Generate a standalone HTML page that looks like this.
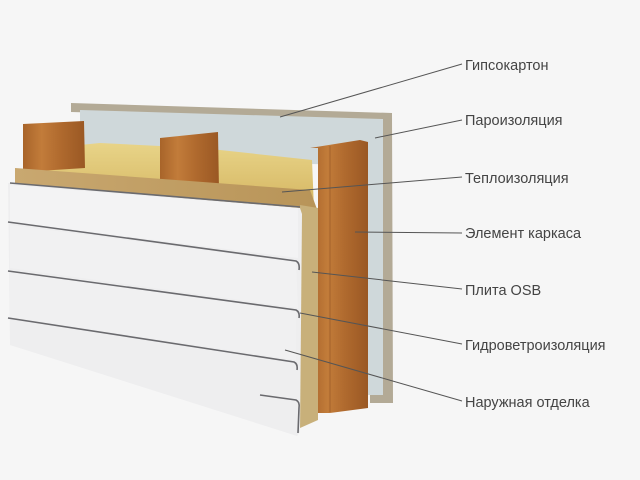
<!DOCTYPE html>
<html><head><meta charset="utf-8"><style>
html,body{margin:0;padding:0;background:#f6f6f6;}
svg{display:block}
text{font-family:"Liberation Sans","DejaVu Sans",sans-serif;font-size:14.5px;fill:#444}
</style></head><body>
<svg width="640" height="480" viewBox="0 0 640 480" xmlns="http://www.w3.org/2000/svg">
<defs>
<linearGradient id="wood" x1="0" x2="1" y1="0" y2="0">
<stop offset="0" stop-color="#a8642a"/><stop offset="0.3" stop-color="#c27c3a"/><stop offset="0.6" stop-color="#b06a2e"/><stop offset="1" stop-color="#9a5824"/></linearGradient>
<linearGradient id="ins" x1="0" x2="0" y1="0" y2="1">
<stop offset="0" stop-color="#e8d488"/><stop offset="1" stop-color="#d4b460"/></linearGradient>
<linearGradient id="osb" x1="0" x2="1"><stop offset="0" stop-color="#c9a870"/><stop offset="1" stop-color="#b89458"/></linearGradient>
</defs>
<rect width="640" height="480" fill="#f6f6f6"/>
<!-- gypsum -->
<polygon points="71,103 392,113 393,403 370,403 370,120 71,112" fill="#b3aa96"/>
<!-- vapor barrier -->
<polygon points="80,110 383,119 383,395 366,395 366,165 80,160" fill="#cfd8da"/>
<!-- insulation -->
<polygon points="30,150 100,143 160,146 220,150 312,160 314,210 30,180" fill="url(#ins)"/>
<!-- left stud -->
<polygon points="23,124 84,121 85,168 23,172" fill="url(#wood)"/>
<!-- middle stud -->
<polygon points="160,138 218,132 219,190 160,192" fill="url(#wood)"/>
<!-- OSB top -->
<polygon points="15,168 310,190 318,212 15,185" fill="url(#osb)"/>
<!-- OSB right edge -->
<polygon points="300,205 318,208 318,420 300,428" fill="#c8b07a"/>
<!-- right stud -->
<polygon points="310,148 360,140 368,142 368,408 330,413 318,413 318,148" fill="url(#wood)"/>
<line x1="330" y1="146" x2="330" y2="412" stroke="#8a4c1e" stroke-width="1" opacity=".5"/>
<!-- siding -->
<polygon points="8,183 300,208 302,214 300,432 297,436 10,345" fill="#eeeeef"/>
<polygon points="10,185 298,208 298,258 10,222" fill="#f3f3f4"/>
<polygon points="10,225 296,262 298,308 10,268" fill="#f1f1f2"/>
<polygon points="10,272 296,311 296,360 10,317" fill="#f0f0f1"/>
<polygon points="10,320 296,365 298,432 10,345" fill="#eeeeef"/>
<g stroke="#6a6a6e" stroke-width="1.6" fill="none">
<path d="M10,183 L300,207"/>
<path d="M8,222 L296,261 Q300,263 299,270"/>
<path d="M8,271 L296,310 Q300,312 299,318"/>
<path d="M8,318 L294,362 Q298,364 297,370"/>
<path d="M260,395 L296,400 Q300,402 299,408 L298,433"/>
</g>
<!-- leader lines -->
<g stroke="#555" stroke-width="1" fill="none">
<line x1="462" y1="64" x2="280" y2="117"/>
<line x1="462" y1="120" x2="375" y2="138"/>
<line x1="462" y1="177" x2="282" y2="192"/>
<line x1="462" y1="233" x2="355" y2="232"/>
<line x1="462" y1="289" x2="312" y2="272"/>
<line x1="462" y1="344" x2="300" y2="313"/>
<line x1="462" y1="401" x2="285" y2="350"/>
</g>
<text x="465" y="70">Гипсокартон</text>
<text x="465" y="125">Пароизоляция</text>
<text x="465" y="183">Теплоизоляция</text>
<text x="465" y="238">Элемент каркаса</text>
<text x="465" y="295">Плита OSB</text>
<text x="465" y="350">Гидроветроизоляция</text>
<text x="465" y="407">Наружная отделка</text>
</svg>
</body></html>
